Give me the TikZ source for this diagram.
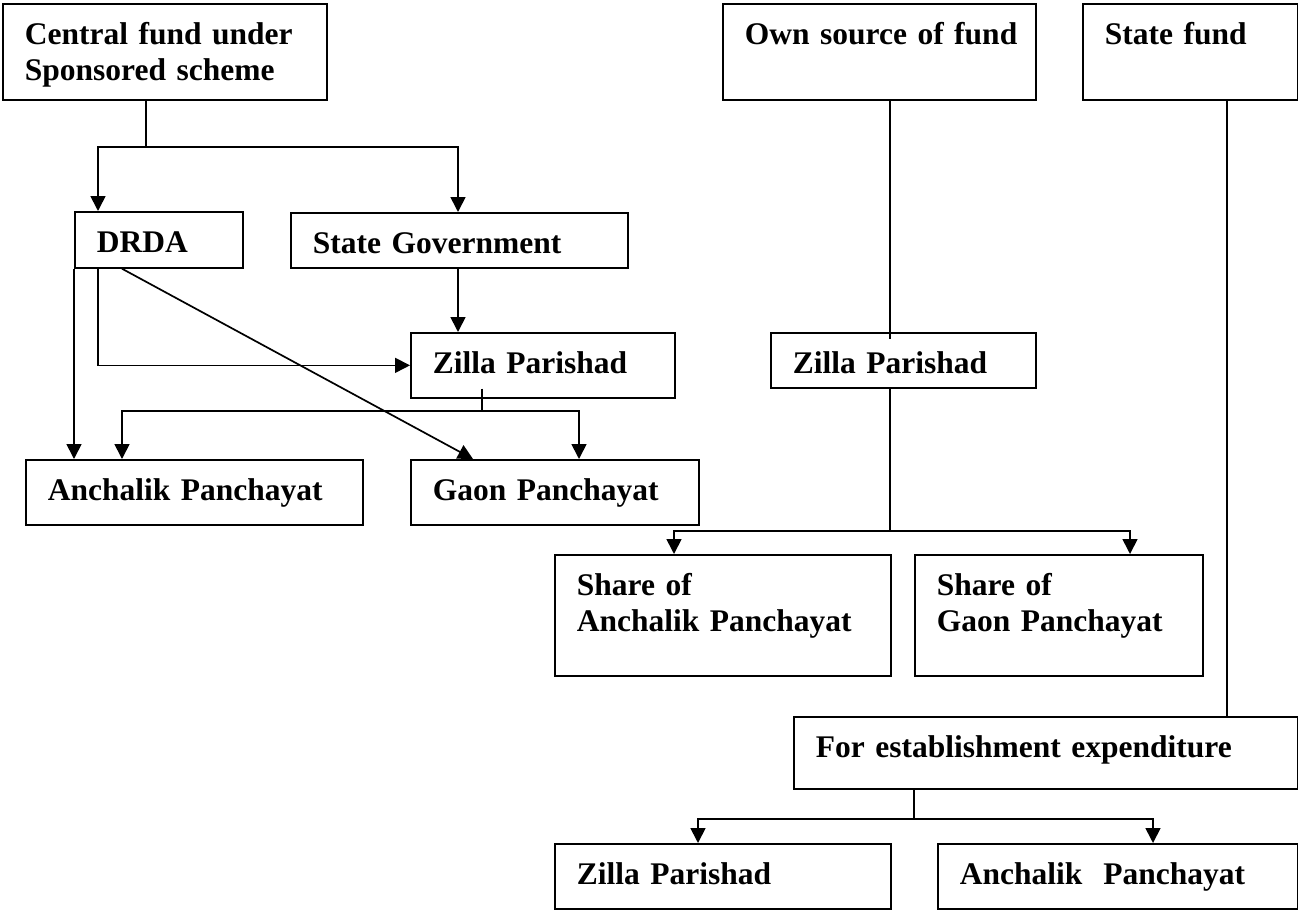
\documentclass[tikz,border=0pt]{standalone}
\usepackage{fontspec}
\setmainfont{Liberation Serif}
\usetikzlibrary{arrows.meta}

\begin{document}
\begin{tikzpicture}[x=1pt, y=-1pt,
  box/.style={draw, line width=1.7pt, anchor=north west, inner xsep=22pt, inner ysep=0pt,
    align=left, text height=41pt, font=\bfseries\fontsize{31.5}{36}\selectfont},
  link/.style={line width=1.7pt},
  arr/.style={link, -{Triangle[length=15pt,width=15pt]}}]

\useasboundingbox (0,0) rectangle (1298,910);

% -------- Sources of fund -----------
\node [box, text width=280pt, text depth=55pt] (cfund) at (2,3) {Central fund under\\Sponsored scheme};
\node [box, text width=269pt, text depth=55pt] (own)   at (722,3) {\mbox{Own source of fund}};
\node [box, text width=171pt, text depth=55pt] (sfund) at (1082,3) {State fund};

% -------- Central fund branch -----------
\node [box, text width=124pt, text depth=15pt] (drda) at (74,211)  {DRDA};
\node [box, text width=293pt, text depth=14pt] (sgov) at (290,212) {State Government};
\node [box, text width=220pt, text depth=24pt] (zpl)  at (410,332) {Zilla Parishad};
\node [box, text width=293pt, text depth=24pt] (apl)  at (25,459)  {Anchalik Panchayat};
\node [box, text width=244pt, text depth=24pt] (gaon) at (410,459) {Gaon Panchayat};

% -------- Own source branch -----------
\node [box, text width=221pt, text depth=14pt] (zpm)  at (770,332) {Zilla Parishad};
\node [box, text width=292pt, text depth=80pt] (shap) at (554,554) {Share of\\Anchalik Panchayat};
\node [box, text width=244pt, text depth=80pt] (shgp) at (914,554) {Share of\\Gaon Panchayat};

% -------- State fund branch -----------
\node [box, text width=460pt, text depth=31pt] (estb) at (793,716) {For establishment expenditure};
\node [box, text width=292pt, text depth=24pt] (zpb)  at (554,843) {Zilla Parishad};
\node [box, text width=316pt, text depth=24pt] (apb)  at (937,843) {Anchalik~~Panchayat};

% -------- Links -----------
\coordinate (fork1) at (146,147);
\draw [link] (cfund.south -| fork1) -- (fork1);
\draw [arr] (fork1) -| ([xshift=24pt]drda.north west);
\draw [arr] (fork1) -| ([xshift=168pt]sgov.north west);
\draw [arr] ([xshift=168pt]sgov.south west) -- ([xshift=48pt]zpl.north west);
\draw [arr] ([xshift=24pt]drda.south west) |- (zpl.west);
\draw [arr] (drda.south west) -- (drda.south west |- apl.north);
\draw [arr] ([xshift=48pt]drda.south west) -- ([xshift=63pt]gaon.north west);

\coordinate (fork2) at (482,411);
\draw [link] ([xshift=72pt,yshift=10pt]zpl.south west) -- (fork2);
\draw [arr] (fork2) -| ([xshift=97pt]apl.north west);
\draw [arr] (fork2) -| ([xshift=169pt]gaon.north west);

\draw [link] ([xshift=168pt]own.south west) -- ([xshift=120pt,yshift=-7pt]zpm.north west);
\coordinate (fork3) at (890,531);
\draw [link] ([xshift=120pt]zpm.south west) -- (fork3);
\draw [arr] (fork3) -| ([xshift=120pt]shap.north west);
\draw [arr] (fork3) -| ([xshift=216pt]shgp.north west);

\draw [link] ([xshift=145pt]sfund.south west) -- ([xshift=434pt]estb.north west);
\coordinate (fork4) at (914,819);
\draw [link] ([xshift=121pt]estb.south west) -- (fork4);
\draw [arr] (fork4) -| ([xshift=144pt]zpb.north west);
\draw [arr] (fork4) -| ([xshift=216pt]apb.north west);
\end{tikzpicture}
\end{document}
